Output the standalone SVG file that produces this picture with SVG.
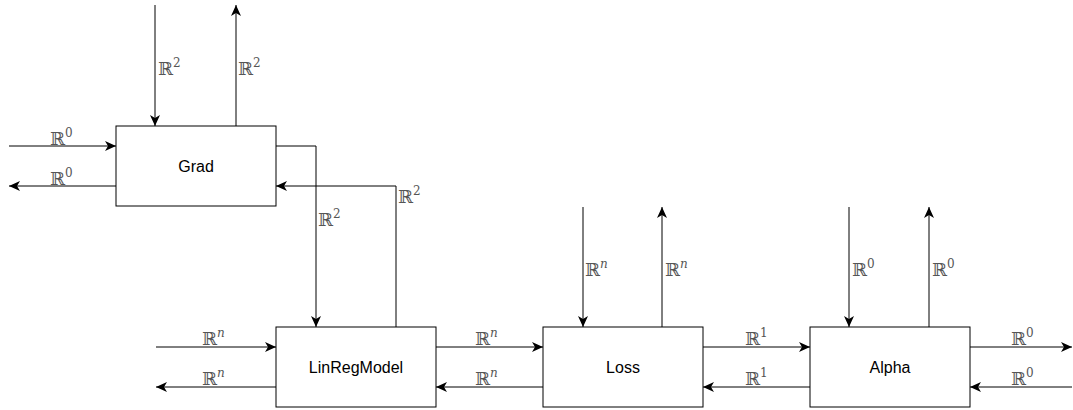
<svg xmlns="http://www.w3.org/2000/svg" width="1073" height="410" viewBox="0 0 1073 410">
<style>
.box{fill:#fff;stroke:#000;stroke-width:1}
.ln{fill:none;stroke:#000;stroke-width:1}
.arr{marker-end:url(#ah)}
.nm{font-family:"Liberation Sans",Arial,sans-serif;font-size:16px;fill:#000;text-anchor:middle}
.lb{font-family:"DejaVu Serif",serif;font-size:18px;fill:#555}
.sp{font-size:12px}
.it{font-style:italic}
</style>
<defs>
<marker id="ah" markerUnits="userSpaceOnUse" markerWidth="13" markerHeight="11" refX="11" refY="5" orient="auto">
<path d="M0,0 L11,5 L0,10 L3,5 z" fill="#000"/>
</marker>
</defs>
<g id="connectors">
<path class="ln arr" d="M9,146 H116"/>
<path class="ln arr" d="M116,186 H9"/>
<path class="ln arr" d="M155,5 V126"/>
<path class="ln arr" d="M236,126 V5"/>
<path class="ln arr" d="M276,146 H316 V327"/>
<path class="ln arr" d="M396,327 V186 H276"/>
<path class="ln arr" d="M156,347 H276"/>
<path class="ln arr" d="M276,387 H156"/>
<path class="ln arr" d="M436,347 H543"/>
<path class="ln arr" d="M543,387 H436"/>
<path class="ln arr" d="M583,207 V327"/>
<path class="ln arr" d="M662,327 V207"/>
<path class="ln arr" d="M703,347 H810"/>
<path class="ln arr" d="M810,387 H703"/>
<path class="ln arr" d="M849,207 V327"/>
<path class="ln arr" d="M929,327 V207"/>
<path class="ln arr" d="M970,347 H1072"/>
<path class="ln arr" d="M1072,387 H970"/>
<text class="lb" x="50" y="145">ℝ<tspan class="sp" dy="-8">0</tspan></text>
<text class="lb" x="50" y="185">ℝ<tspan class="sp" dy="-8">0</tspan></text>
<text class="lb" x="158" y="75">ℝ<tspan class="sp" dy="-8">2</tspan></text>
<text class="lb" x="238" y="75">ℝ<tspan class="sp" dy="-8">2</tspan></text>
<text class="lb" x="318" y="226">ℝ<tspan class="sp" dy="-8">2</tspan></text>
<text class="lb" x="398" y="203">ℝ<tspan class="sp" dy="-8">2</tspan></text>
<text class="lb" x="202" y="345">ℝ<tspan class="sp it" dy="-8">n</tspan></text>
<text class="lb" x="202" y="385">ℝ<tspan class="sp it" dy="-8">n</tspan></text>
<text class="lb" x="475" y="345">ℝ<tspan class="sp it" dy="-8">n</tspan></text>
<text class="lb" x="475" y="385">ℝ<tspan class="sp it" dy="-8">n</tspan></text>
<text class="lb" x="585" y="276">ℝ<tspan class="sp it" dy="-8">n</tspan></text>
<text class="lb" x="665" y="276">ℝ<tspan class="sp it" dy="-8">n</tspan></text>
<text class="lb" x="745" y="345">ℝ<tspan class="sp" dy="-8">1</tspan></text>
<text class="lb" x="745" y="385">ℝ<tspan class="sp" dy="-8">1</tspan></text>
<text class="lb" x="852" y="276">ℝ<tspan class="sp" dy="-8">0</tspan></text>
<text class="lb" x="932" y="276">ℝ<tspan class="sp" dy="-8">0</tspan></text>
<text class="lb" x="1011" y="345">ℝ<tspan class="sp" dy="-8">0</tspan></text>
<text class="lb" x="1011" y="385">ℝ<tspan class="sp" dy="-8">0</tspan></text>
</g>
<g id="grad"><rect class="box" x="116" y="126" width="160" height="80"/><text class="nm" x="196" y="172">Grad</text></g>
<g id="linreg"><rect class="box" x="276" y="327" width="160" height="80"/><text class="nm" x="356" y="373">LinRegModel</text></g>
<g id="loss"><rect class="box" x="543" y="327" width="160" height="80"/><text class="nm" x="623" y="373">Loss</text></g>
<g id="alpha"><rect class="box" x="810" y="327" width="160" height="80"/><text class="nm" x="890" y="373">Alpha</text></g>
</svg>
